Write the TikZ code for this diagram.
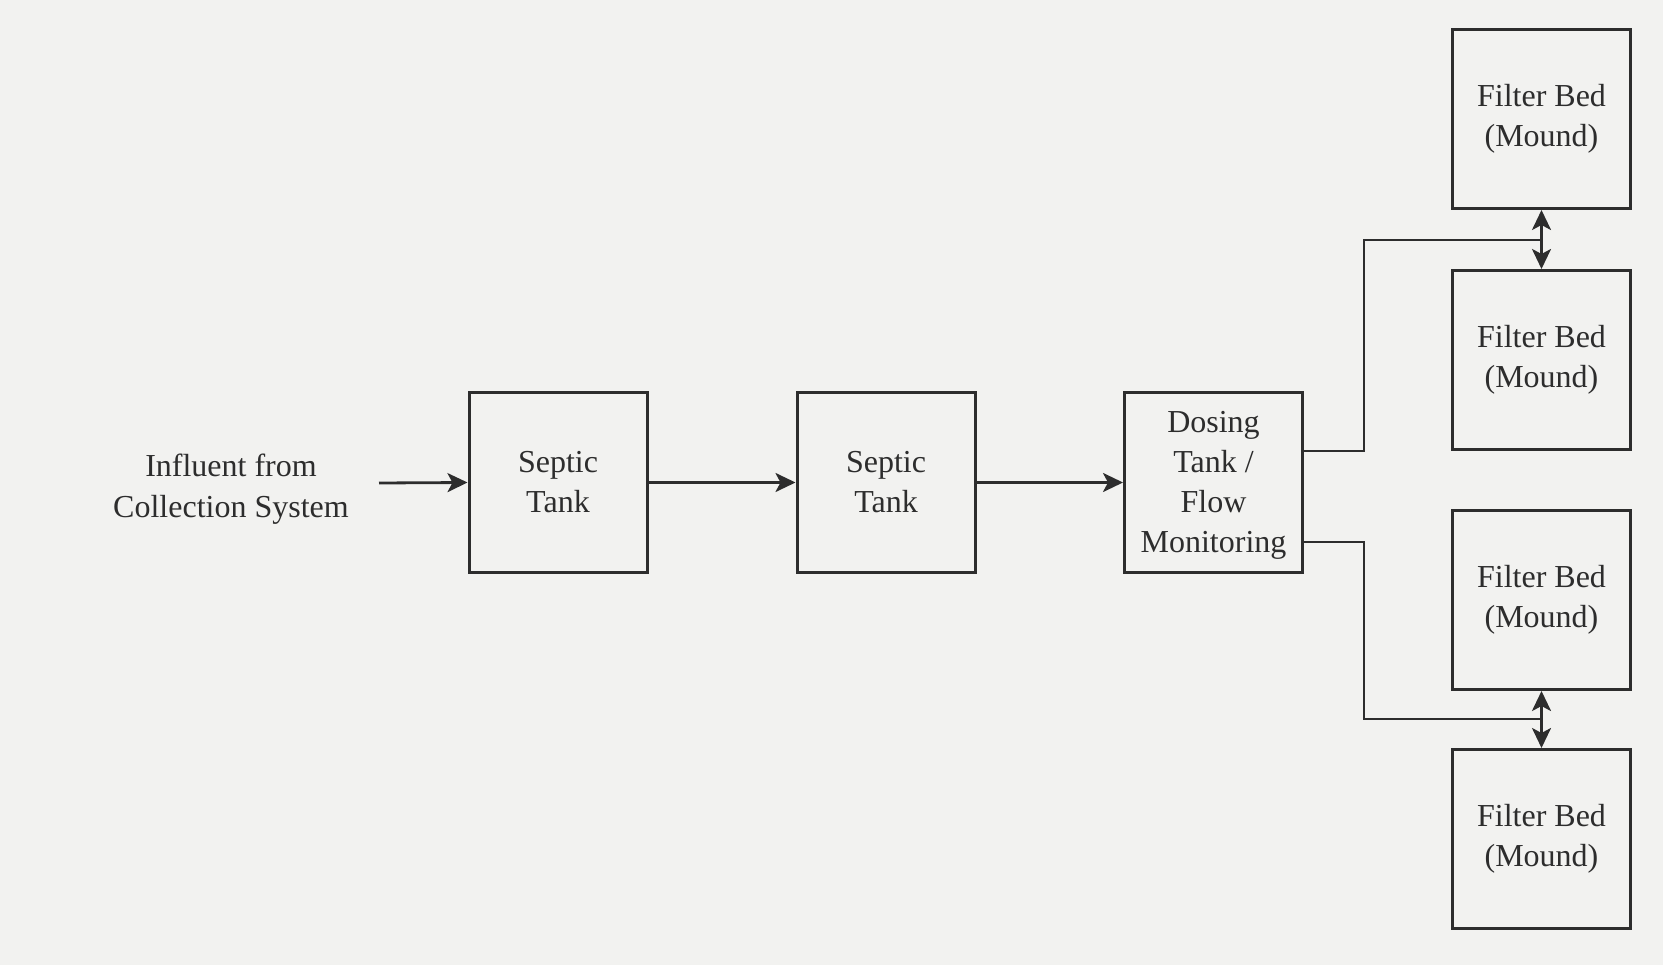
\documentclass[tikz,border=0pt]{standalone}
\usepackage{fontspec}
\setmainfont{Liberation Serif}
\usetikzlibrary{arrows.meta}
\definecolor{paper}{RGB}{242,242,240}
\definecolor{ink}{RGB}{45,45,45}
\tikzset{
  box/.style={draw=ink, line width=3pt, minimum width=178pt, minimum height=179pt, align=center, text=ink, font=\fontsize{32}{40}\selectfont, inner sep=0pt},
  lbl/.style={align=center, text=ink, font=\fontsize{32}{41}\selectfont},
  conn/.style={draw=ink, line width=2.8pt},
  arr/.style={conn, -{Stealth[length=20pt,width=19pt,inset=5pt]}}
}
\begin{document}
\begin{tikzpicture}[x=1pt,y=-1pt]
\fill[paper] (0,0) rectangle (1663,965);
\useasboundingbox (0,0) rectangle (1663,965);
\node[lbl] (inf) at (231,489) {Influent from\\Collection System};
\coordinate (infend) at (379,483);
\node[box] (st1) at (558,482.5) {Septic\\Tank};
\node[box] (st2) at (886,482.5) {Septic\\Tank};
\node[box] (dose) at (1213.5,482.5) {};
\node[lbl, font=\fontsize{32}{40}\selectfont] (dosetxt) at (1213.5,485) {Dosing\\Tank /\\Flow\\Monitoring};
\node[box] (fb1) at (1541.5,119) {Filter Bed\\(Mound)};
\node[box] (fb2) at (1541.5,360) {Filter Bed\\(Mound)};
\node[box] (fb3) at (1541.5,600) {Filter Bed\\(Mound)};
\node[box] (fb4) at (1541.5,839) {Filter Bed\\(Mound)};
\coordinate (j1) at (1541.5,240);
\coordinate (j2) at (1541.5,719);
\draw[arr] (infend) -- (st1.west);
\draw[arr] (st1.east) -- (st2.west);
\draw[arr] (st2.east) -- (dose.west);
\draw[conn] ([yshift=31.5pt]dose.east) -- ++(60,0) |- (j1);
\draw[conn] ([yshift=-59.5pt]dose.east) -- ++(60,0) |- (j2);
\draw[arr] (j1) -- (fb1.south);
\draw[arr] (j1) -- (fb2.north);
\draw[arr] (j2) -- (fb3.south);
\draw[arr] (j2) -- (fb4.north);
\end{tikzpicture}
\end{document}
